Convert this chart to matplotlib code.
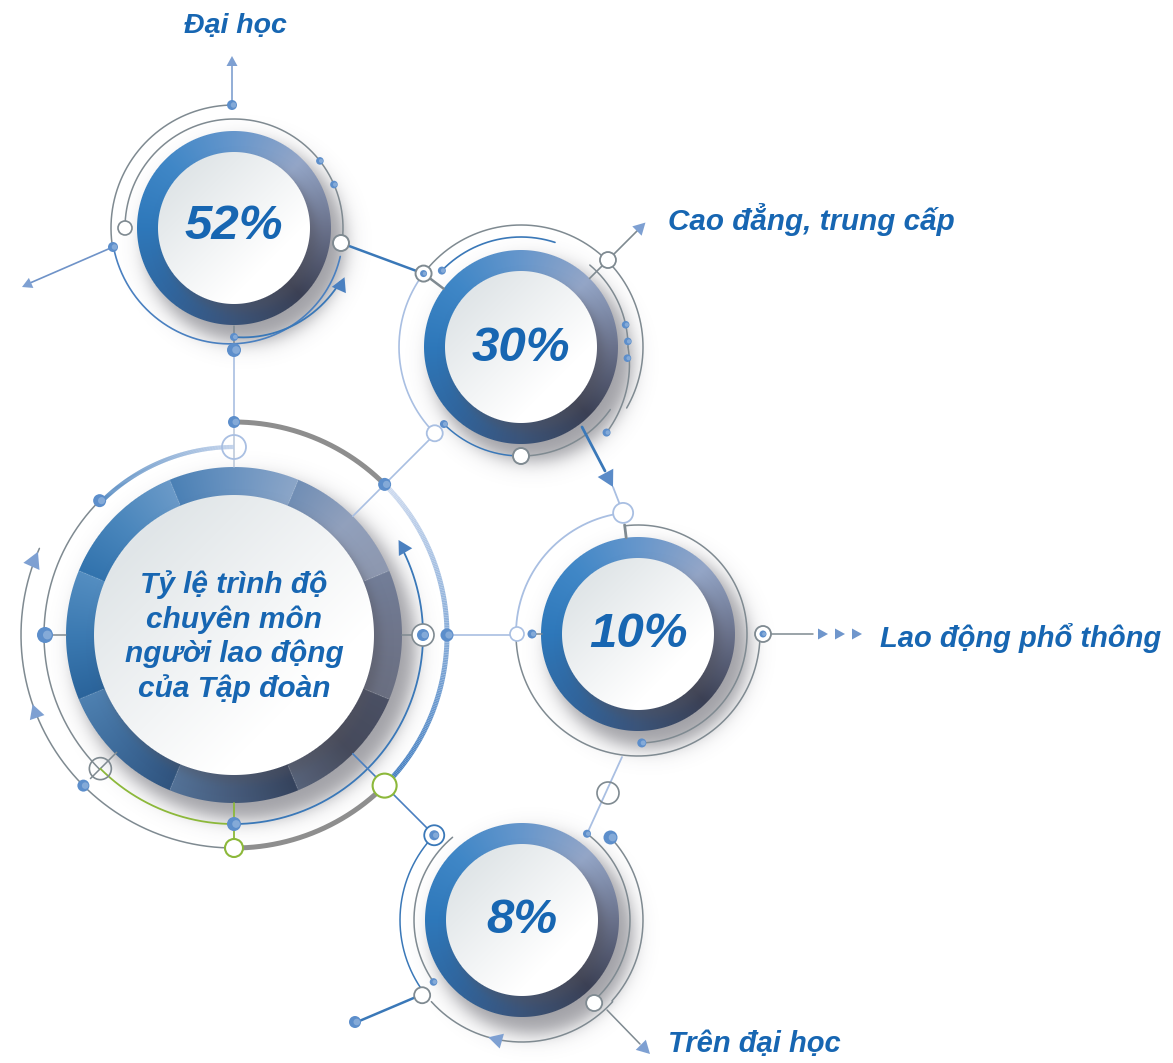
import numpy as np
import matplotlib
matplotlib.use("Agg")
import matplotlib.pyplot as plt
from matplotlib.patches import Circle, Polygon
from matplotlib.collections import LineCollection
from matplotlib.colors import to_rgb

# ---------------- data ----------------
shares = [52, 30, 10, 8]
categories = ["Đại học", "Cao đẳng, trung cấp", "Lao động phổ thông", "Trên đại học"]
hub_title = ["Tỷ lệ trình độ", "chuyên môn", "người lao động", "của Tập đoàn"]

# ---------------- layout (pixel space) ----------------
W, H = 1173, 1063
node_xy = [(234, 228), (521, 347), (638, 634), (522, 920)]
node_ring = 97
node_face = 76
hub_xy = (234, 635)
hub_ring, hub_face = 168, 140
label_pos = [(235, 33, "center"), (668, 230, "left"), (880, 647, "left"), (668, 1052, "left")]
label_size = [20.5, 21.3, 21.0, 21.0]
pct_dy = [11, 14, 13, 13]

TXT = "#1766b2"
GRAY = "#7f8a91"
BLUE = "#3a78b8"
LBLUE = "#a9bfe2"
DOT = "#5c8ecb"
GREEN = "#8cb83a"
TGRAY = "#8e8e8e"
FONT = dict(family="Liberation Sans", weight="bold", style="italic", color=TXT)

fig = plt.figure(figsize=(W / 100, H / 100), dpi=100)
ax = fig.add_axes([0, 0, 1, 1])
ax.axis("off")

# ---------------- helpers ----------------
def P(c, r, deg):
    t = np.radians(deg)
    return c[0] + r * np.cos(t), c[1] - r * np.sin(t)


def paint(x0, y0, x1, y1, fn, z):
    xs = np.arange(x0, x1) + 0.5
    ys = np.arange(y0, y1) + 0.5
    X, Y = np.meshgrid(xs, ys)
    ax.imshow(fn(X, Y), extent=(x0, x1, y1, y0), origin="upper",
              interpolation="bilinear", zorder=z)


STOP_DEG = np.array([-180, -135, -90, -45, 0, 45, 90, 135, 180])
STOP_RGB = np.array([
    (0.18, 0.47, 0.73),
    (0.19, 0.40, 0.62),
    (0.23, 0.33, 0.48),
    (0.23, 0.25, 0.33),
    (0.42, 0.45, 0.55),
    (0.58, 0.65, 0.78),
    (0.40, 0.59, 0.80),
    (0.25, 0.53, 0.78),
    (0.18, 0.47, 0.73),
])


def ring_fn(c, R, segmented=False):
    def fn(X, Y):
        dx, dy = X - c[0], c[1] - Y
        d = np.hypot(dx, dy)
        th = np.degrees(np.arctan2(dy, dx))
        rgb = np.stack([np.interp(th, STOP_DEG, STOP_RGB[:, k]) for k in range(3)], -1)
        if segmented:
            # each 45-degree tile brightens slightly in the clockwise direction
            s = (((112.5 - th) % 45.0) / 45.0)[..., None]
            rgb = rgb * (0.95 - 0.05 * (1 - s)) + (1 - rgb) * 0.16 * s
        a = np.clip(R - d + 0.5, 0, 1)
        return np.dstack([np.clip(rgb, 0, 1), a])
    return fn


def face_fn(c, R):
    lo = np.array([0.88, 0.90, 0.91])
    hi = np.array([1.0, 1.0, 1.0])
    def fn(X, Y):
        dx, dy = X - c[0], Y - c[1]
        d = np.hypot(dx, dy)
        t = np.clip((dx + dy) / (2.0 * R) * 0.9 + 0.6, 0, 1)[..., None]
        rgb = lo + (hi - lo) * t
        a = np.clip(R - d + 0.5, 0, 1)
        return np.dstack([rgb, a])
    return fn


def shadow_fn(c, R, off, w, amax):
    col = np.array([0.33, 0.33, 0.37])
    def fn(X, Y):
        d = np.hypot(X - c[0] - off[0], Y - c[1] - off[1])
        a = amax * 0.5 * (1 - np.tanh((d - R) / w))
        rgb = np.broadcast_to(col, X.shape + (3,))
        return np.dstack([rgb, a])
    return fn


def disk(c, R_ring, R_face, segmented=False):
    pad = R_ring + 60
    x0, y0 = int(c[0] - pad), int(c[1] - pad)
    x1, y1 = int(c[0] + pad), int(c[1] + pad)
    paint(x0, y0, x1, y1, shadow_fn(c, R_ring + 3, (11, 14), 11, 0.55), 1)
    paint(x0, y0, x1, y1, ring_fn(c, R_ring, segmented), 2)
    p2 = R_face + 30
    paint(int(c[0] - p2), int(c[1] - p2), int(c[0] + p2), int(c[1] + p2),
          shadow_fn(c, R_face, (6, 8), 6, 0.45), 2.5)
    if segmented:
        for k in range(8):
            a = 22.5 + 45 * k
            xa, ya = P(c, R_face + 2, a)
            xb, yb = P(c, R_ring - 1, a)
            ax.plot([xa, xb], [ya, yb], color="white", lw=0.6, alpha=0.2, zorder=2.6)
    paint(int(c[0] - R_face - 2), int(c[1] - R_face - 2), int(c[0] + R_face + 3),
          int(c[1] + R_face + 3), face_fn(c, R_face), 3)


def arc(c, r, a1, a2, color, lw=1.1, r2=None, z=4):
    r2 = r if r2 is None else r2
    t = np.linspace(a1, a2, 300)
    rr = np.linspace(r, r2, 300)
    ax.plot(c[0] + rr * np.cos(np.radians(t)), c[1] - rr * np.sin(np.radians(t)),
            color=color, lw=lw, solid_capstyle="round", zorder=z)


def grad_arc(c, r, a1, a2, c1, c2, lw, z=4):
    t = np.linspace(a1, a2, 200)
    x = c[0] + r * np.cos(np.radians(t))
    y = c[1] - r * np.sin(np.radians(t))
    pts = np.stack([x, y], 1)
    segs = np.stack([pts[:-1], pts[1:]], 1)
    f = np.linspace(0, 1, len(segs))[:, None]
    cols = np.array(to_rgb(c1)) * (1 - f) + np.array(to_rgb(c2)) * f
    ax.add_collection(LineCollection(segs, colors=cols, linewidths=lw, zorder=z,
                                     capstyle="butt"))


def line(p, q, color, lw=1.1, z=4):
    ax.plot([p[0], q[0]], [p[1], q[1]], color=color, lw=lw, solid_capstyle="round", zorder=z)


def dot(p, r, color=DOT, z=6):
    ax.add_patch(Circle(p, r, fc=color, ec="none", zorder=z))
    ax.add_patch(Circle((p[0] + r * 0.3, p[1]), r * 0.55, fc="white", ec="none",
                        alpha=0.25, zorder=z))


def ring(p, r, color=GRAY, lw=1.2, fill=True, z=6):
    ax.add_patch(Circle(p, r, fc="white" if fill else "none", ec=color, lw=lw, zorder=z))


def head(tip, ang, size=10, color="#7ea0d2", z=7):
    a = np.radians(ang)
    d = np.array([np.cos(a), -np.sin(a)])
    n = np.array([-d[1], d[0]])
    tip = np.array(tip, float)
    base = tip - d * size
    pts = [tip, base + n * size * 0.55, base - n * size * 0.55]
    ax.add_patch(Polygon(pts, closed=True, fc=color, ec="none", zorder=z))


# ---------------- discs ----------------
disk(hub_xy, hub_ring, hub_face, segmented=True)
for c in node_xy:
    disk(c, node_ring, node_face)

# ---------------- hub decorations ----------------
Hc = hub_xy
arc(Hc, 213, 90, 45, TGRAY, 3.6)
grad_arc(Hc, 213, 45, -45, "#d0dcf0", "#3f7cc0", 3.6)
arc(Hc, 213, -45, -90, TGRAY, 3.6)
dot(P(Hc, 213, 90), 6)
line((234, 428), (234, 467), "#b9c6d8", 1.1, z=3.5)
grad_arc(Hc, 188, 90, 135, "#b8cbe8", BLUE, 3.0)
ring(P(Hc, 188, 90), 12, LBLUE, 1.3, fill=False)
dot(P(Hc, 190, 135), 6.5)
arc(Hc, 190, 135, 225, GRAY)
dot(P(Hc, 189, 180), 8)
line(P(Hc, 181, 180), P(Hc, 168, 180), GRAY)
line(P(Hc, 166, 225), P(Hc, 203, 225), GRAY)
ring(P(Hc, 189, 225), 11, GRAY, 1.2, fill=False)
arc(Hc, 189, 225, 270, GREEN, 1.3)
line((234, 803), (234, 840), GREEN, 1.3)
ring((234, 848), 9, GREEN, 1.5)
dot(P(Hc, 189, 270), 7)
arc(Hc, 189, 270, 388, BLUE, 1.3)
head(P(Hc, 190, 30), 120, 14, "#4a80c0")
line(P(Hc, 168, 0), P(Hc, 178, 0), GRAY)
ring(P(Hc, 189, 0), 11, GRAY, 1.2)
dot(P(Hc, 189, 0), 6)
line((447, 635), (512, 635), LBLUE, 1.2)
dot((447, 635), 6.5)
arc(Hc, 213, 156, 270, GRAY, 1.1)
head(P(Hc, 213, 157), 66, 16)
head(P(Hc, 213, 199), 109, 14)
dot(P(Hc, 213, 225), 6)
line(P(Hc, 168, 45), (435, 434), LBLUE, 1.2)
dot(P(Hc, 213, 45), 6.5)
line(P(Hc, 168, -45), (430, 831), "#4a7fc0", 1.2)
ring(P(Hc, 213, -45), 12, GREEN, 1.5)

# ---------------- 52% node ----------------
A = node_xy[0]
arc(A, 109, 180, -8, GRAY)
ring(P(A, 109, 180), 7, GRAY, 1.2)
dot(P(A, 109, 38), 3.8)
dot(P(A, 109, 23.5), 3.8)
arc(A, 123, 90, 189, GRAY)
line((232, 105), (232, 64), "#7f9fd0", 1.2)
head((232, 56), 90, 10)
dot((232, 105), 5)
line((113, 247), (30, 283), "#6f93c8", 1.2)
head((22, 287), 204, 10)
dot((113, 247), 5)
arc(A, 122, 189, 345, "#4a80c0", 1.2, r2=110)
line((234, 326), (234, 350), GRAY, 1.1, z=3.5)
line((234, 350), (234, 420), LBLUE, 1.2, z=3.5)
arc(A, 109, 270, 333, BLUE, 1.3, r2=119)
head(P(A, 121, 336), 66, 14, "#4a80c0")
dot((234, 337), 4)
dot((234, 350), 7)
line((341, 243), (422, 273), BLUE, 1.8)
ring((341, 243), 8, GRAY, 1.4)

# ---------------- 30% node ----------------
B = node_xy[1]
arc(B, 122, 143, -30, GRAY)
line(P(B, 122, 143), P(B, 97, 143), GRAY, 1.8)
ring(P(B, 122, 143), 8, GRAY, 1.4)
dot(P(B, 122, 143), 3.5)
arc(B, 110, 136, 72, BLUE, 1.2)
dot(P(B, 110, 136), 4)
line(P(B, 97, 45), P(B, 123, 45), GRAY, 1.2)
line(P(B, 131, 45), P(B, 166, 45), GRAY, 1.2)
head(P(B, 176, 45), 45, 12)
ring(P(B, 123, 45), 8, GRAY, 1.3)
arc(B, 107, 50, 0, GRAY)
arc(B, 107, 0, -45, GRAY, r2=121)
for a in (12, 3, -6):
    dot(P(B, 107, a), 3.8)
dot(P(B, 121, -45), 4)
arc(B, 122, 143, 225, LBLUE, 1.2)
arc(B, 109, 225, 270, BLUE, 1.1)
arc(B, 109, 270, 325, GRAY, 1.1)
dot(P(B, 109, 225), 4)
ring(P(B, 109, 270), 8, GRAY, 1.4)
ring(P(B, 122, 225), 8, LBLUE, 1.3)
line((582, 427), (605, 471), BLUE, 2.0)
head((613, 487), -62, 16, "#5a8bc8")
line((613, 487), (620, 505), LBLUE, 1.3)

# ---------------- 10% node ----------------
Cn = node_xy[2]
arc(Cn, 122, 180, 360, GRAY)
arc(Cn, 109, 97, -88, GRAY)
dot(P(Cn, 109, -88), 4.5)
arc(Cn, 122, 97, 180, LBLUE, 1.3)
line(P(Cn, 110, 97), P(Cn, 97, 97), GRAY, 2.0)
ring(P(Cn, 122, 97), 10, LBLUE, 1.3)
line(P(Cn, 106, 180), P(Cn, 96, 180), GRAY, 1.1)
ring(P(Cn, 121, 180), 7, LBLUE, 1.2)
dot(P(Cn, 106, 180), 4.5)
line((771, 634), (813, 634), GRAY, 1.1)
ring((763, 634), 8, GRAY, 1.3)
dot((763, 634), 3.5)
for tx in (828, 845, 862):
    head((tx, 634), 0, 10, "#6f96cc")
line((622, 757), (586, 836), LBLUE, 1.3)
ring((608, 793), 11, GRAY, 1.2, fill=False)

# ---------------- 8% node ----------------
D = node_xy[3]
arc(D, 122, 136, 217, BLUE, 1.1)
arc(D, 108, 130, 215, GRAY, 1.1)
dot(P(D, 108, 215), 3.8)
ring(P(D, 122, 136), 10, BLUE, 1.3)
dot(P(D, 122, 136), 5)
line((416, 997), (357, 1022), BLUE, 1.8)
dot((355, 1022), 6)
ring(P(D, 125, 217), 8, GRAY, 1.3)
arc(D, 122, 222, 318, GRAY)
head(P(D, 122, 254), 164, 14)
arc(D, 121, 43, -42, GRAY)
dot(P(D, 121, 43), 7)
arc(D, 108, 53, -47, GRAY)
dot(P(D, 108, 53), 4)
ring(P(D, 110, -49), 8, GRAY, 1.3)
line((607, 1010), (640, 1044), GRAY, 1.1)
head((650, 1054), -45, 13)

# ---------------- text ----------------
for (x, y, ha), name, fs in zip(label_pos, categories, label_size):
    ax.text(x, y, name, ha=ha, va="baseline", fontsize=fs, zorder=10, **FONT)

for c, v, dy in zip(node_xy, shares, pct_dy):
    ax.text(c[0], c[1] + dy, f"{v}%", ha="center", va="baseline", fontsize=35.5,
            zorder=10, **FONT)

for i, s in enumerate(hub_title):
    ax.text(hub_xy[0], 593 + 34.7 * i, s, ha="center", va="baseline", fontsize=21.5,
            zorder=10, **FONT)

ax.set_xlim(0, W)
ax.set_ylim(H, 0)
ax.set_aspect("equal")
fig.savefig("out.png", dpi=100, facecolor="white")
